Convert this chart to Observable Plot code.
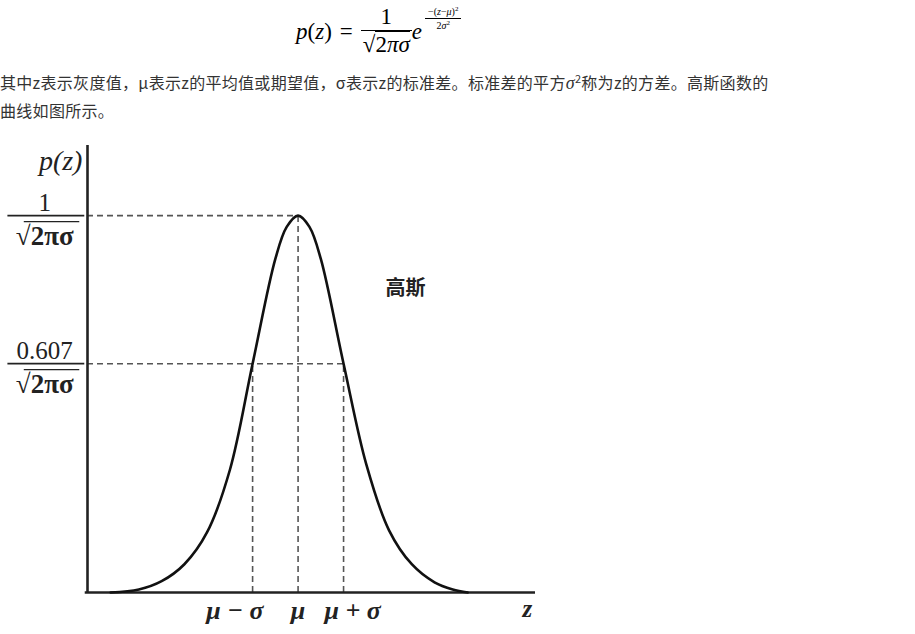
<!DOCTYPE html>
<html>
<head>
<meta charset="utf-8">
<script src="https://cdn.jsdelivr.net/npm/d3@7"></script>
<script src="https://cdn.jsdelivr.net/npm/@observablehq/plot@0.6"></script>
<style>
  html, body { margin: 0; padding: 0; background: #fff; width: 915px; height: 634px; overflow: hidden; }
  #formula { position: absolute; left: 296px; top: 4px; font-family: "Liberation Serif", serif; font-size: 23px; color: #000; display: flex; align-items: center; white-space: nowrap; }
  .frac { display: inline-flex; flex-direction: column; align-items: center; vertical-align: middle; }
  .frac .num { border-bottom: 1px solid #000; padding: 0 3px; line-height: 1.15; text-align: center; width: 100%; box-sizing: border-box; }
  .frac .den { line-height: 1.25; padding: 0 2px; }
  .radicand { border-top: 1px solid #000; }
  .rel { margin: 0 8px; }
  .exp { align-self: flex-start; margin-top: 1px; margin-left: 3px; font-size: 10px; }
  .exp .num { line-height: 1.2; border-bottom-width: 0.8px; }
  .exp sup { font-size: 7px; }
  #para { position: absolute; left: 0; top: 65px; font-family: "Noto Sans CJK SC", "Noto Sans", sans-serif; font-size: 16px; line-height: 27px; color: #333; white-space: nowrap; letter-spacing: 0.3px; }
  #para .m { font-family: "Liberation Serif", serif; font-style: italic; font-size: 18px; }
  #para sup { font-size: 11px; }
  #chart { position: absolute; left: 0; top: 140px; }
</style>
</head>
<body>
<div id="formula">
  <span><i>p</i>(<i>z</i>)</span><span class="rel">=</span>
  <span class="frac"><span class="num">1</span><span class="den">√<span class="radicand">2<i>π</i><i>σ</i></span></span></span>
  <span><i>e</i></span>
  <span class="exp"><span class="frac"><span class="num">−(<i>z</i>−<i>μ</i>)<sup>2</sup></span><span class="den">2<i>σ</i><sup>2</sup></span></span></span>
</div>
<div id="para">其中z表示灰度值，μ表示z的平均值或期望值，σ表示z的标准差。标准差的平方<span class="m">σ</span><sup>2</sup>称为z的方差。高斯函数的<br>曲线如图所示。</div>
<div id="chart"></div>
<script>
// Curve: z in units of σ from μ, p relative to the peak 1/√(2πσ)
const curveZ = [-4.12, -3.5, -3.0, -2.5, -2.0, -1.5, -1.0, -0.5, -0.25, 0, 0.25, 0.5, 1.0, 1.5, 2.0, 2.5, 3.0, 3.4, 3.73];
const curveP = [0, 0.008, 0.03, 0.075, 0.16, 0.325, 0.607, 0.885, 0.97, 1, 0.97, 0.885, 0.607, 0.34, 0.165, 0.075, 0.027, 0.008, 0];

// Axis domain
const xDomain = [-4.63, 5.22];
const yDomain = [0, 1.186];

// Guide levels (dashed)
const levels = [1, 0.607];
const levelEnds = [0, 1];            // z where each horizontal dashed line stops
const levelNums = ["1", "0.607"];     // numerators of the y labels
const levelDen = "√2πσ";
const guideZ = [-1, 0, 1];
const guideTops = [0.607, 1, 0.607];

// Tick labels on z axis
const tickLabels = ["μ − σ", "μ", "μ + σ"];
const tickLabelZ = [-1.39, 0, 1.2];

// Other labels
const yTitle = "p(z)";
const xTitle = "z";
const curveName = "高斯";

const curve = curveZ.map((z, i) => ({z, p: curveP[i]}));
const hGuides = levels.map((p, i) => ({p, end: levelEnds[i], num: levelNums[i]}));
const vGuides = guideZ.map((z, i) => ({z, top: guideTops[i]}));
const ticks = tickLabels.map((t, i) => ({t, z: tickLabelZ[i]}));

const serif = "Liberation Serif, Times New Roman, serif";
const fracX = -5.57, fracX1 = -6.38, fracX2 = -4.69, radX1 = -6.02, radX2 = -4.8;

const chart = Plot.plot({
  width: 560,
  height: 494,
  marginLeft: 87,
  marginRight: 25,
  marginTop: 5,
  marginBottom: 42,
  x: {domain: xDomain, axis: null},
  y: {domain: yDomain, axis: null},
  style: {background: "transparent", overflow: "visible"},
  marks: [
    // dashed guides
    Plot.ruleY(hGuides, {y: "p", x1: xDomain[0], x2: "end", stroke: "#555", strokeWidth: 1.6, strokeDasharray: "6,4"}),
    Plot.ruleX(vGuides, {x: "z", y1: 0, y2: "top", stroke: "#555", strokeWidth: 1.6, strokeDasharray: "6,4"}),
    // axes
    Plot.ruleY([0], {x1: -4.68, x2: xDomain[1], stroke: "#222", strokeWidth: 2.6}),
    Plot.ruleX([xDomain[0]], {y1: 0, y2: yDomain[1], stroke: "#222", strokeWidth: 2.6}),
    // curve
    Plot.line(curve, {x: "z", y: "p", curve: "catmull-rom", stroke: "#111", strokeWidth: 2.6}),
    // y fraction labels
    Plot.ruleY(hGuides, {y: "p", x1: fracX1, x2: fracX2, stroke: "#222", strokeWidth: 1.8}),
    Plot.ruleY(hGuides, {y: "p", x1: radX1, x2: radX2, dy: 6, stroke: "#222", strokeWidth: 1.3}),
    Plot.text(hGuides, {x: fracX, y: "p", text: "num", dy: -13, fontFamily: serif, fontSize: 25, fill: "#222"}),
    Plot.text(hGuides, {x: fracX, y: "p", text: () => levelDen, dy: 21, fontFamily: serif, fontSize: 27, fontWeight: "bold", fill: "#222"}),
    // y title
    Plot.text([yTitle], {x: -5.22, y: 1.146, text: d => d, fontFamily: serif, fontSize: 28, fontStyle: "italic", fill: "#222"}),
    // tick labels
    Plot.text(ticks, {x: "z", y: 0, text: "t", dy: 18, fontFamily: serif, fontSize: 26, fontStyle: "italic", fontWeight: "bold", fill: "#222"}),
    Plot.text([xTitle], {x: 5.04, y: 0, text: d => d, dy: 16, fontFamily: serif, fontSize: 25, fontStyle: "italic", fontWeight: "bold", fill: "#222"}),
    // series name
    Plot.text([curveName], {x: 2.36, y: 0.806, text: d => d, fontFamily: "Noto Sans CJK SC", fontSize: 20, fontWeight: "bold", fill: "#222"})
  ]
});
document.getElementById("chart").appendChild(chart);
</script>
</body>
</html>
